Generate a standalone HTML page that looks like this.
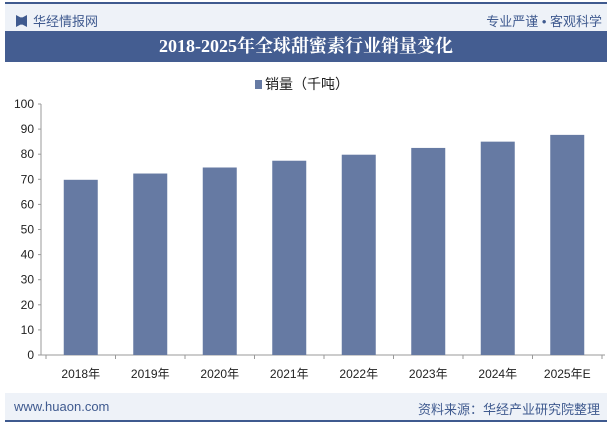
<!DOCTYPE html>
<html><head><meta charset="utf-8"><style>
body{margin:0;width:612px;height:424px;background:#fff;overflow:hidden;font-family:"Liberation Sans","Noto Sans CJK SC",sans-serif;position:relative}
.a{position:absolute}
</style></head><body>
<div class="a" style="left:5px;top:2px;width:602px;height:2px;background:#3f5a8f"></div>
<div class="a" style="left:5px;top:4px;width:602px;height:27px;background:#eef2f8"></div>
<div class="a" style="left:16px;top:11px;font-size:13px;color:#3f5a8f"><span style="display:inline-block;width:11px;height:12px;background:#3f5a8f;vertical-align:-1px;margin-right:6px;clip-path:polygon(0 0,40% 20%,60% 20%,100% 0,100% 100%,60% 80%,40% 80%,0 100%)"></span>华经情报网</div>
<div class="a" style="right:10px;top:11px;font-size:13px;color:#3f5a8f">专业严谨 • 客观科学</div>
<div class="a" style="left:5px;top:31px;width:602px;height:31px;background:#445d91;color:#fff;font-family:'Liberation Serif','Noto Serif CJK SC',serif;font-weight:bold;font-size:18px;text-align:center;line-height:31px">2018-2025年全球甜蜜素行业销量变化</div>
<div class="a" style="left:255px;top:74px;font-size:14px;color:#222"><span style="display:inline-block;width:7px;height:9px;background:#667aa3;margin-right:3px"></span>销量（千吨）</div>
<svg class="a" style="left:0;top:0" width="612" height="424" id="c"></svg>
<div class="a" style="left:5px;top:393px;width:602px;height:27px;background:#eef2f8"></div>
<div class="a" style="left:5px;top:420px;width:602px;height:2px;background:#3f5a8f"></div>
<div class="a" style="left:14px;top:399px;font-size:13px;color:#3f5a8f">www.huaon.com</div>
<div class="a" style="right:12px;top:399px;font-size:13px;color:#3f5a8f">资料来源：华经产业研究院整理</div>
<script>
const categories=["2018年","2019年","2020年","2021年","2022年","2023年","2024年","2025年E"];
const values=[69.8,72.3,74.7,77.4,79.8,82.5,85.0,87.7];
const yTicks=[0,10,20,30,40,50,60,70,80,90,100];
const svg=document.getElementById('c');const NS='http://www.w3.org/2000/svg';
const x0=46,x1=602,y0=355,y1=104,yMax=100;
const slot=(x1-x0)/categories.length;
const Y=v=>y0-(v/yMax)*(y0-y1);
function mk(t,a){const e=document.createElementNS(NS,t);for(const k in a)e.setAttribute(k,a[k]);svg.appendChild(e);return e;}
let ax=mk('line',{x1:x0-5,y1:y1,x2:x0-5,y2:y0,stroke:'#999'});


yTicks.forEach(t=>{
 mk('line',{x1:x0-8,x2:x0-5,y1:Y(t),y2:Y(t),stroke:'#999'});
 const tx=mk('text',{x:x0-12,y:Y(t)+4,'text-anchor':'end','font-size':12,fill:'#222'});tx.textContent=t;
 
 
});
let bx=mk('line',{x1:x0-5,y1:y0,x2:x1+3,y2:y0,stroke:'#999'});


categories.forEach((c,i)=>{
 const cx=x0+slot*(i+0.5);
 mk('line',{x1:x0+slot*i,x2:x0+slot*i,y1:y0,y2:y0+4,stroke:'#999'});
 const b=mk('rect',{x:cx-17,y:Y(values[i]),width:34,height:y0-Y(values[i]),fill:'#667aa3'});
 
 
 const t=mk('text',{x:cx,y:378,'text-anchor':'middle','font-size':12,fill:'#222'});t.textContent=c;
 
 
});
mk('line',{x1:x1,x2:x1,y1:y0,y2:y0+4,stroke:'#999'});
</script>
</body></html>
